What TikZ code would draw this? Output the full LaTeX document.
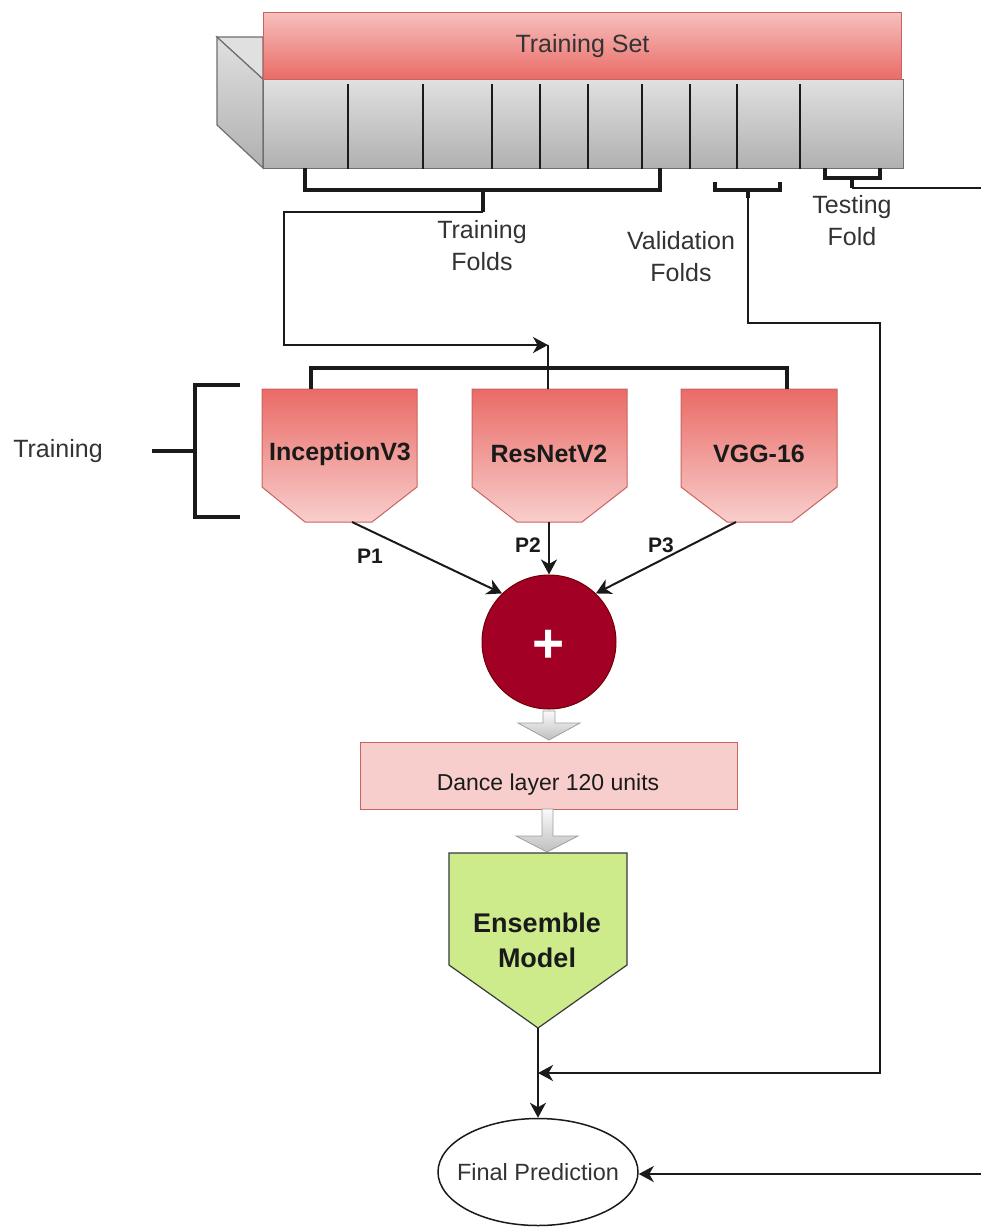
\documentclass[tikz,border=0pt]{standalone}
\usepackage{fontspec}
\setmainfont{Liberation Sans}
\usetikzlibrary{arrows.meta,shapes.geometric,calc}
\definecolor{redtop}{HTML}{EA6B66}
\definecolor{redlight}{HTML}{F8CECC}
\definecolor{redstroke}{HTML}{C86460}
\definecolor{sumred}{HTML}{A20025}
\definecolor{sumstroke}{HTML}{6F0000}
\definecolor{ensgreen}{HTML}{CDEB8B}
\definecolor{ensstroke}{HTML}{36393D}
\definecolor{txtgray}{HTML}{333333}
\definecolor{linecol}{HTML}{1A1A1A}
\definecolor{graylight}{HTML}{E0E0E0}
\definecolor{graydark}{HTML}{B0B0B0}
\definecolor{grayedge}{HTML}{6E6E6E}
\begin{document}
\begin{tikzpicture}[x=1pt,y=-1pt,
  lbl/.style={font=\fontsize{25}{32}\selectfont, text=txtgray, align=center, inner sep=0},
  mdl/.style={font=\bfseries\fontsize{25}{30}\selectfont, text=linecol, inner sep=0},
  plbl/.style={font=\bfseries\fontsize{21}{24}\selectfont, text=linecol, inner sep=0},
  heavy/.style={draw=linecol, line width=3.8pt},
  thinline/.style={draw=linecol, line width=2pt},
  arr/.style={thinline, -{Stealth[length=15pt,width=16pt,inset=4.5pt]}},
  modelshape/.style={draw=redstroke, line width=1pt, top color=redtop, bottom color=redlight},
  blockarr/.style={draw=gray!75, line width=0.8pt, top color=white!96!gray, bottom color=gray!50},
  graybox/.style={draw=grayedge, line width=1.2pt, top color=graylight, bottom color=graydark}
]
\useasboundingbox (0,0) rectangle (981,1227);

% ---------- dataset block ----------
\path[graybox] (217,37) -- (263,79) -- (263,168) -- (217,125) -- cycle;
\path[draw=grayedge, line width=1.2pt, fill=graylight] (217,37) -- (263,37) -- (263,79) -- cycle;
\node[graybox, minimum width=640pt, minimum height=89pt, inner sep=0, anchor=north west] (folds) at (263,79) {};
\foreach \xx in {348,423,492,540,588,642,690,737,800}
  \draw[linecol, line width=2pt] (\xx,84) -- (\xx,169);
\node[draw=redstroke, line width=1pt, top color=redlight!85!redtop, bottom color=redtop,
      minimum width=638pt, minimum height=67pt, inner sep=0, anchor=north west,
      font=\fontsize{25}{30}\selectfont, text=txtgray] (tset) at (263,12) {Training Set};

% ---------- brackets under folds ----------
\draw[heavy] (305,168) -- (305,190) -- (660,190) -- (660,168);
\coordinate (tfstem) at (483,212);
\draw[heavy] (483,190) -- (tfstem);
\draw[heavy] (715,182) -- (715,190) -- (780,190) -- (780,182);
\coordinate (vstem) at (748,198);
\draw[heavy] (748,190) -- (vstem);
\draw[heavy] (825,168) -- (825,178) -- (880,178) -- (880,168);
\coordinate (tstem) at (852,188);
\draw[heavy] (852,178) -- (tstem);

\node[lbl] (lblTF) at (482,246) {Training\\Folds};
\node[lbl] (lblVF) at (681,257) {Validation\\Folds};
\node[lbl] (lblTe) at (852,221) {Testing\\Fold};

% ---------- models ----------
\path[modelshape] (262,389) -- (417,389) -- (417,487) -- (372,522) -- (305,522) -- (262,487) -- cycle;
\path[modelshape] (472,389) -- (627,389) -- (627,487) -- (582,522) -- (517,522) -- (472,487) -- cycle;
\path[modelshape] (681,389) -- (837,389) -- (837,487) -- (792,522) -- (727,522) -- (681,487) -- cycle;
\node[mdl] (inc) at (340,454) {InceptionV3};
\node[mdl] (res) at (549,454) {ResNetV2};
\node[mdl] (vgg) at (759,454) {VGG-16};
\coordinate (incTop) at (311,389);
\coordinate (resTop) at (548,389);
\coordinate (vggTop) at (787,389);
\coordinate (incBot) at (352,522);
\coordinate (resBot) at (549,522);
\coordinate (vggBot) at (736,522);

% model feed bracket
\draw[heavy, line width=3.2pt] (incTop) -- (311,368) -- (787,368) -- (vggTop);
\coordinate (feed) at (548,345);
\draw[arr] (tfstem) -- (284,212) -- (284,345) -- (feed);
\draw[thinline] (feed) -- (resTop);

% training bracket
\draw[heavy] (240,385) -- (195,385) -- (195,517) -- (240,517);
\coordinate (trstem) at (152,451);
\draw[heavy] (trstem) -- (195,451);
\node[lbl, anchor=center] (lblTr) at (58,451) {Training};

% ---------- combination ----------
\node[circle, fill=sumred, draw=sumstroke, line width=1pt, minimum size=134pt, inner sep=0] (sum) at (549,642) {};
\node[text=white, font=\bfseries\fontsize{55}{55}\selectfont, inner sep=0] (plus) at (549,646) {+};

\draw[arr] (incBot) -- (sum.134);
\draw[arr] (resBot) -- (sum.north);
\draw[arr] (vggBot) -- (sum.46);
\node[plbl] (p1) at (370,556) {P1};
\node[plbl] (p2) at (528,545) {P2};
\node[plbl] (p3) at (661,545) {P3};

% block arrow 1
\path[blockarr] (543,711) -- (555,711) -- (555,723) -- (580,723) -- (549,740) -- (518,723) -- (543,723) -- cycle;

% dance layer
\node[draw=redstroke, line width=1pt, fill=redlight, minimum width=377pt, minimum height=67pt,
      inner sep=0, anchor=north west] (dance) at (360,742) {};
\node[font=\fontsize{23}{28}\selectfont, text=linecol, inner sep=0] (danceT) at (548,785) {Dance layer 120 units};

% block arrow 2
\path[blockarr] (542,809) -- (553,809) -- (553,836) -- (578,836) -- (547,852) -- (516,836) -- (542,836) -- cycle;

% ensemble
\path[draw=ensstroke, line width=1.2pt, fill=ensgreen] (449,853) -- (627,853) -- (627,965) -- (538,1028) -- (449,965) -- cycle;
\node[font=\bfseries\fontsize{27}{35}\selectfont, text=linecol, align=center, inner sep=0] (ens) at (537,940) {Ensemble\\Model};
\coordinate (ensTip) at (538,1028);

% final prediction
\node[ellipse, draw=linecol, line width=1.5pt, minimum width=200pt, minimum height=107pt, inner sep=0] (final) at (538,1172) {};
\node[font=\fontsize{23.5}{28}\selectfont, text=txtgray, inner sep=0] (finalT) at (final.center) {Final Prediction};
\draw[arr] (ensTip) -- (final.north);

% validation route
\coordinate (vjoin) at (538,1073);
\draw[arr] (vstem) -- (748,323) -- (880,323) -- (880,1073) -- (vjoin);

% testing route
\coordinate (tout) at (981,188);
\draw[thinline] (tstem) -- (tout);
\coordinate (tin) at (981,1174);
\draw[arr] (tin) -- (final.east |- tin);
\end{tikzpicture}
\end{document}
